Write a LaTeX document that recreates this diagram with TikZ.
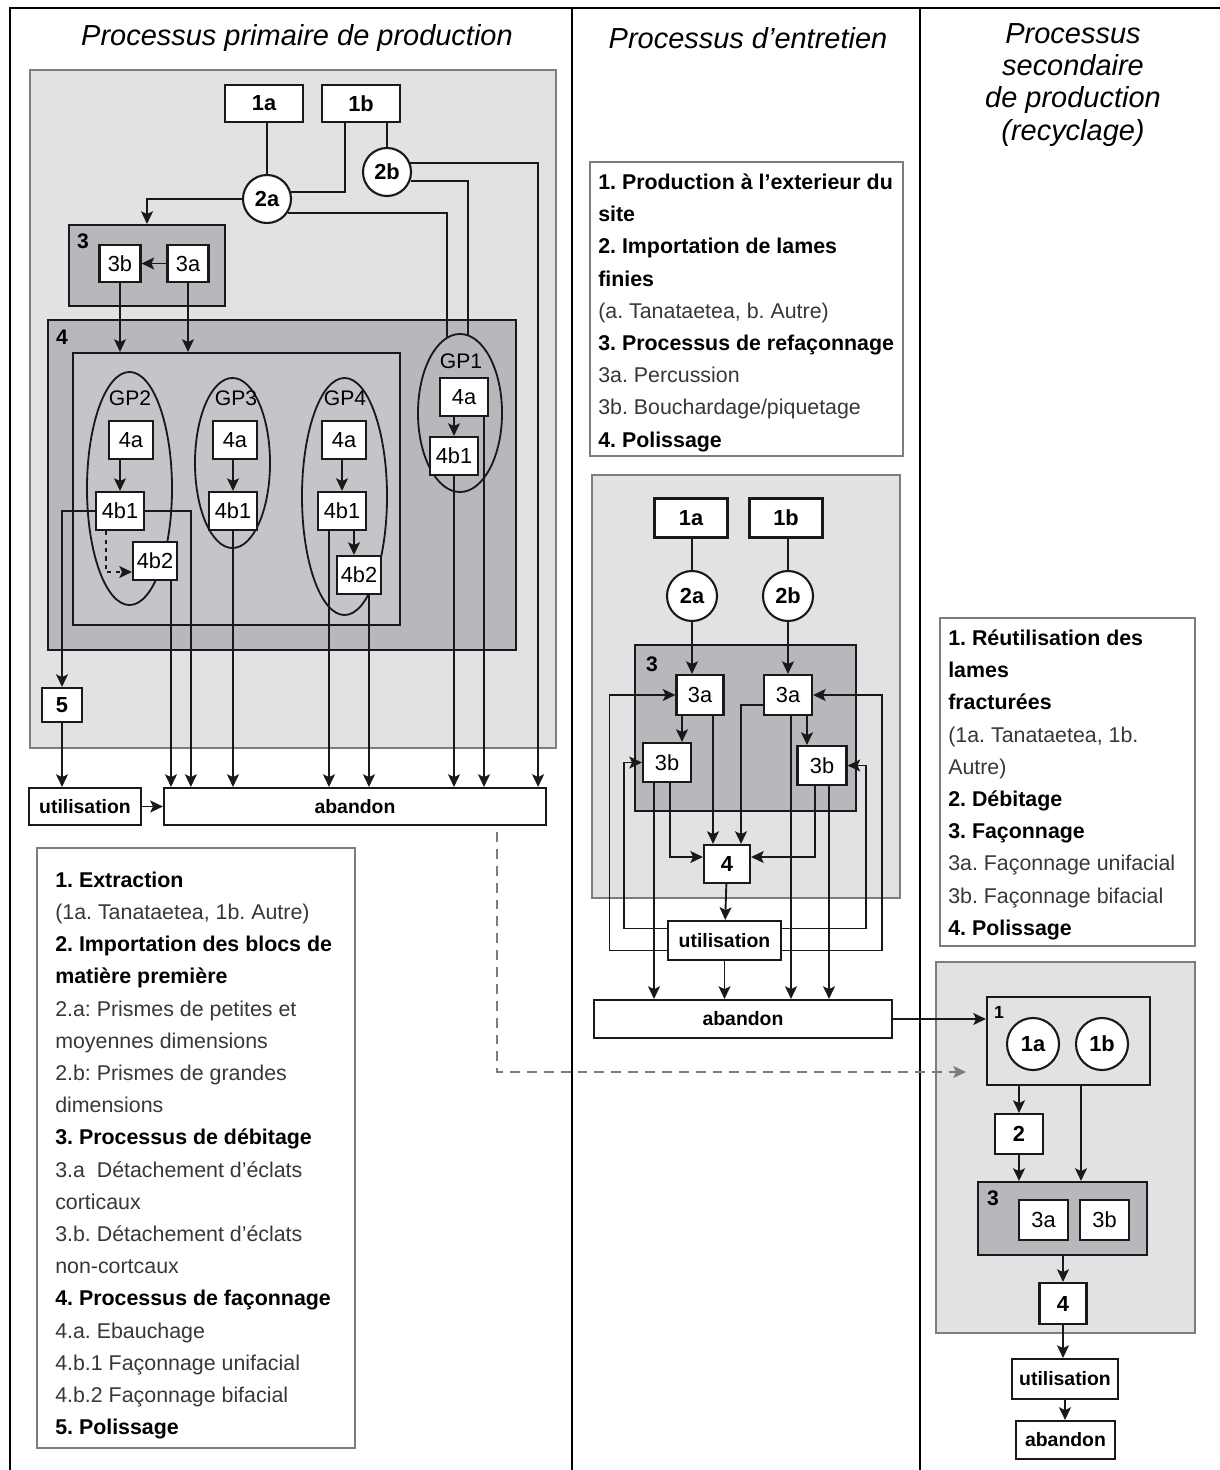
\documentclass[tikz,border=0pt]{standalone}
\usepackage{fontspec}
\setmainfont{Liberation Sans}
\usepackage{xcolor}
\usepackage{tikz}
\usetikzlibrary{positioning,arrows.meta,shapes.geometric,calc}
\frenchspacing

\definecolor{panelgray}{RGB}{226,226,229}
\definecolor{zonegray}{RGB}{184,184,188}
\definecolor{innergray}{RGB}{197,197,201}
\definecolor{edgegray}{RGB}{125,125,128}
\definecolor{legsub}{RGB}{55,55,55}
\definecolor{inkdark}{RGB}{25,25,25}
\newcommand{\souslig}[1]{\textcolor{legsub}{#1}}

\begin{document}
\begin{tikzpicture}[x=0.025cm, y=-0.025cm,
 boite/.style={draw=inkdark, line width=1.5pt, fill=white, inner sep=0pt, font=\fontsize{15.5}{18}\selectfont},
 bbox/.style={boite, font=\fontsize{15.5}{18}\selectfont\bfseries},
 wbox/.style={boite, font=\fontsize{13.8}{16}\selectfont\bfseries},
 rond/.style={circle, draw=inkdark, line width=1.5pt, fill=white, inner sep=0pt, minimum size=1.2cm, font=\fontsize{15.5}{18}\selectfont\bfseries},
 ovale/.style={ellipse, draw=inkdark, line width=1.3pt, inner sep=0pt},
 zone/.style={draw=inkdark, line width=1.5pt, inner sep=0pt},
 panneau/.style={draw=edgegray, line width=1pt, fill=panelgray, inner sep=0pt},
 legende/.style={draw=edgegray, line width=1pt, fill=white, inner sep=0pt},
 legtext/.style={anchor=north west, inner sep=0pt, align=left, font=\fontsize{15.2}{22.9}\selectfont},
 titre/.style={inner sep=0pt, font=\fontsize{20.6}{22.8}\selectfont\itshape},
 etiq/.style={anchor=north west, inner sep=0pt, font=\fontsize{15}{18}\selectfont\bfseries},
 gp/.style={inner sep=0pt, font=\fontsize{15}{18}\selectfont},
 lien/.style={draw=inkdark, line width=1.35pt},
 arr/.style={lien, -{Stealth[length=9pt,width=8.5pt,inset=2pt]}},
 tiret/.style={draw=edgegray, line width=1.4pt, dash pattern=on 7pt off 5pt, -{Stealth[length=9pt,width=8.5pt,inset=2pt]}},
 cadre/.style={draw=black, line width=1.5pt}]
\useasboundingbox (0,0) rectangle (1220,1470);

% cadre et titres
\draw[cadre] (10,1470) -- (10,8) -- (1220,8);
\draw[cadre] (572,8) -- (572,1470);
\draw[cadre] (920,8) -- (920,1470);
\node[titre] (hPrim) at (297,38) {Processus primaire de production};
\node[titre] (hEnt) at (748,38) {Processus d'entretien};
\node[titre, align=center] (hSec) at (1073,85) {Processus\\secondaire\\de production\\(recyclage)};

% processus primaire
\node[panneau, minimum width=13.15cm, minimum height=16.95cm] (pPanel) at (293,409) {};
\node[zone, fill=zonegray, minimum width=3.9cm, minimum height=2.025cm] (pThree) at (147,265.5) {};
\node[etiq] (pThreeLab) at ($(pThree.north west)+(9,10)$) {3};
\node[zone, fill=zonegray, minimum width=11.7cm, minimum height=8.25cm] (pFour) at (282,485) {};
\node[etiq] (pFourLab) at ($(pFour.north west)+(9,11)$) {4};
\node[zone, fill=innergray, minimum width=8.175cm, minimum height=6.8cm] (pInner) at (236.5,489) {};
\node[ovale, minimum width=2.125cm, minimum height=5.825cm] (pGPtwo) at (129.5,488.5) {};
\node[ovale, minimum width=1.875cm, minimum height=4.25cm] (pGPthree) at (232.5,463) {};
\node[ovale, minimum width=2.125cm, minimum height=5.925cm] (pGPfour) at (344.5,496.5) {};
\node[ovale, minimum width=2.1cm, minimum height=3.95cm] (pGPone) at (460,413) {};
\node[gp] (lGPtwo) at (130,398) {GP2};
\node[gp] (lGPthree) at (236,398) {GP3};
\node[gp] (lGPfour) at (345,398) {GP4};
\node[gp] (lGPone) at (461,361) {GP1};

\node[bbox, minimum width=1.95cm, minimum height=0.925cm] (p1a) at (264,103.5) {1a};
\node[bbox, minimum width=1.95cm, minimum height=0.925cm] (p1b) at (361,103.5) {1b};
\node[rond] (p2a) at (267,199) {2a};
\node[rond] (p2b) at (387,172) {2b};
\node[boite, minimum width=1.025cm, minimum height=0.925cm] (p3b) at (120,263.5) {3b};
\node[boite, minimum width=1.025cm, minimum height=0.925cm] (p3a) at (188,263.5) {3a};

\node[boite, minimum width=1.1cm, minimum height=0.95cm] (g2a) at (131,440) {4a};
\node[boite, minimum width=1.2cm, minimum height=0.95cm] (g2b1) at (120,511) {4b1};
\node[boite, minimum width=1.1cm, minimum height=0.95cm] (g2b2) at (155,561) {4b2};
\node[boite, minimum width=1.1cm, minimum height=0.95cm] (g3a) at (235,440) {4a};
\node[boite, minimum width=1.2cm, minimum height=0.95cm] (g3b1) at (233,511) {4b1};
\node[boite, minimum width=1.1cm, minimum height=0.95cm] (g4a) at (344,440) {4a};
\node[boite, minimum width=1.2cm, minimum height=0.95cm] (g4b1) at (342,511) {4b1};
\node[boite, minimum width=1.1cm, minimum height=0.95cm] (g4b2) at (359,575) {4b2};
\node[boite, minimum width=1.2cm, minimum height=0.95cm] (g1a) at (464,397) {4a};
\node[boite, minimum width=1.2cm, minimum height=0.95cm] (g1b1) at (454,456) {4b1};

\node[bbox, minimum width=1.0cm, minimum height=0.85cm] (p5) at (62,705) {5};
\node[wbox, minimum width=2.8cm, minimum height=0.925cm] (pUtil) at (85,806.5) {utilisation};
\node[wbox, minimum width=9.55cm, minimum height=0.925cm] (pAband) at (355,806.5) {abandon};

\draw[lien] (p2a.north |- p1a.south) -- (p2a.north);
\draw[lien] ($(p1b.south)+(-16,0)$) |- (p2a.17);
\draw[lien] (p2b.north |- p1b.south) -- (p2b.north);
\draw[arr] (p2a.west) -| (pThree.north);
\draw[lien] (p2a.-33) -| (pGPone.100);
\draw[lien] (p2b.-20) -| (pGPone.84);
\draw[arr] (p2b.22) -| ($(pAband.north east)+(-9,0)$);
\draw[arr] (p3a) -- (p3b);
\draw[arr] (p3b.south) -- (p3b.south |- pInner.north);
\draw[arr] (p3a.south) -- (p3a.south |- pInner.north);

\draw[arr] (g2b1.north |- g2a.south) -- (g2b1.north);
\draw[arr] (g3b1.north |- g3a.south) -- (g3b1.north);
\draw[arr] (g4b1.north |- g4a.south) -- (g4b1.north);
\draw[arr] (g1b1.north |- g1a.south) -- (g1b1.north);
\draw[arr, dashed] ($(g2b1.south)+(-14,0)$) |- ($(g2b2.west)+(0,11)$);
\coordinate (c4b) at ($(g4b1.south)+(12,0)$);
\draw[arr] (c4b) -- (c4b |- g4b2.north);
\draw[arr] (g2b1.west) -| (p5.north);
\draw[arr] (g2b1.east) -| ($(pAband.north west)+(28,0)$);

\coordinate (d2b2) at ($(g2b2.south)+(16,0)$);
\coordinate (d4b1) at ($(g4b1.south)+(-13,0)$);
\coordinate (d4b2) at ($(g4b2.south)+(10,0)$);
\coordinate (d1a) at ($(g1a.south)+(20,0)$);
\draw[arr] (d2b2) -- (d2b2 |- pAband.north);
\draw[arr] (g3b1.south) -- (g3b1.south |- pAband.north);
\draw[arr] (d4b1) -- (d4b1 |- pAband.north);
\draw[arr] (d4b2) -- (d4b2 |- pAband.north);
\draw[arr] (g1b1.south) -- (g1b1.south |- pAband.north);
\draw[arr] (d1a) -- (d1a |- pAband.north);
\draw[arr] (p5.south) -- (p5.south |- pUtil.north);
\draw[arr] (pUtil) -- (pAband);

% processus d'entretien
\node[panneau, minimum width=7.7cm, minimum height=10.575cm] (ePanel) at (746,686.5) {};
\node[zone, fill=zonegray, minimum width=5.525cm, minimum height=4.15cm] (eThree) at (745.5,728) {};
\node[etiq] (eThreeLab) at ($(eThree.north west)+(12,13)$) {3};
\node[bbox, minimum width=1.825cm, minimum height=0.975cm] (e1a) at (691,518) {1a};
\node[bbox, minimum width=1.825cm, minimum height=0.975cm] (e1b) at (786,518) {1b};
\node[rond, minimum size=1.25cm] (e2a) at (692,596) {2a};
\node[rond, minimum size=1.25cm] (e2b) at (788,596) {2b};
\node[boite, minimum width=1.175cm, minimum height=1.0cm] (e3aL) at (700,695) {3a};
\node[boite, minimum width=1.2cm, minimum height=1.0cm] (e3aR) at (788,695) {3a};
\node[boite, minimum width=1.2cm, minimum height=0.975cm] (e3bL) at (667,762.5) {3b};
\node[boite, minimum width=1.225cm, minimum height=0.975cm] (e3bR) at (822,765.5) {3b};
\node[bbox, minimum width=1.15cm, minimum height=0.95cm] (e4) at (727,864) {4};
\node[wbox, minimum width=2.825cm, minimum height=0.975cm] (eUtil) at (724.5,940.5) {utilisation};
\node[wbox, minimum width=7.45cm, minimum height=0.95cm] (eAband) at (743,1019) {abandon};

\draw[lien] (e2a.north |- e1a.south) -- (e2a.north);
\draw[lien] (e2b.north |- e1b.south) -- (e2b.north);
\draw[arr] (e2a.south) -- (e2a.south |- e3aL.north);
\draw[arr] (e2b.south) -- (e2b.south |- e3aR.north);
\coordinate (cAL) at ($(e3aL.south)+(-18,0)$);
\coordinate (cAR) at ($(e3aR.south)+(19,0)$);
\coordinate (cA4) at ($(e3aL.south)+(13,0)$);
\draw[arr] (cAL) -- (cAL |- e3bL.north);
\draw[arr] (cAR) -- (cAR |- e3bR.north);
\draw[arr] (cA4) -- (cA4 |- e4.north);
\draw[arr] ($(e3aR.west)+(0,10)$) -| ($(e4.north)+(14,0)$);
\draw[arr] ($(e3bL.south)+(3,0)$) |- ($(e4.west)+(0,-7)$);
\draw[arr] ($(e3bR.south)+(-7,0)$) |- ($(e4.east)+(0,-7)$);
\draw[arr] (e4) -- (eUtil);
\draw[arr] ($(eUtil.west)+(0,-12)$) -| ($(e3bL.west)+(-18,0)$) -- (e3bL.west);
\draw[arr] ($(eUtil.west)+(0,10)$) -| ($(e3aL.west)+(-66,0)$) -- (e3aL.west);
\draw[arr] ($(eUtil.east)+(0,-12)$) -| ($(e3bR.east)+(18,0)$) -- (e3bR.east);
\draw[arr] ($(eUtil.east)+(0,10)$) -| ($(e3aR.east)+(69,0)$) -- (e3aR.east);
\coordinate (dBL) at ($(e3bL.south)+(-13,0)$);
\coordinate (dAR) at ($(e3aR.south)+(3,0)$);
\coordinate (dBR) at ($(e3bR.south)+(7,0)$);
\draw[arr] (dBL) -- (dBL |- eAband.north);
\draw[arr] (eUtil.south) -- (eUtil.south |- eAband.north);
\draw[arr] (dAR) -- (dAR |- eAband.north);
\draw[arr] (dBR) -- (dBR |- eAband.north);

% processus secondaire
\node[panneau, minimum width=6.475cm, minimum height=9.275cm] (rPanel) at (1065.5,1147.5) {};
\node[zone, fill=panelgray, minimum width=4.075cm, minimum height=2.2cm] (rOne) at (1068.5,1041) {};
\node[etiq, font=\fontsize{12.5}{15}\selectfont\bfseries] (rOneLab) at ($(rOne.north west)+(8,10)$) {1};
\node[rond, minimum size=1.3cm] (r1a) at (1033,1044) {1a};
\node[rond, minimum size=1.3cm] (r1b) at (1102,1044) {1b};
\node[bbox, minimum width=1.2cm, minimum height=1.0cm] (r2) at (1019,1134) {2};
\node[zone, fill=zonegray, minimum width=4.225cm, minimum height=1.825cm] (rThree) at (1062.5,1218.5) {};
\node[etiq] (rThreeLab) at ($(rThree.north west)+(10,10)$) {3};
\node[boite, minimum width=1.225cm, minimum height=1.0cm] (r3a) at (1043.5,1220) {3a};
\node[boite, minimum width=1.225cm, minimum height=1.0cm] (r3b) at (1104.5,1220) {3b};
\node[bbox, minimum width=1.175cm, minimum height=1.025cm] (r4) at (1063,1303.5) {4};
\node[wbox, minimum width=2.65cm, minimum height=1.0cm] (rUtil) at (1065,1379) {utilisation};
\node[wbox, minimum width=2.475cm, minimum height=0.95cm] (rAband) at (1065.5,1440) {abandon};

\draw[arr] (r2.north |- rOne.south) -- (r2.north);
\coordinate (cR1) at ($(rOne.south)+(12.5,0)$);
\draw[arr] (cR1) -- (cR1 |- rThree.north);
\draw[arr] (r2.south) -- (r2.south |- rThree.north);
\draw[arr] (r4.north |- rThree.south) -- (r4.north);
\draw[arr] (r4.south) -- (r4.south |- rUtil.north);
\draw[arr] (rUtil.south) -- (rUtil.south |- rAband.north);
\draw[arr] (eAband.east) -- (eAband.east -| rOne.west);
\coordinate (dStart) at ($(pAband.south west)+(334,6)$);
\coordinate (dEnd) at ($(rOne.west)+(-20,31)$);
\draw[tiret] (dStart) |- (dEnd);

% legendes
\node[legende, minimum width=7.95cm, minimum height=15cm] (legA) at (196,1148) {};
\node[legtext] (legAtxt) at (55,871.5) {\textbf{1. Extraction}\\
\souslig{(1a. Tanataetea, 1b. Autre)}\\
\textbf{2. Importation des blocs de}\\
\textbf{matière première}\\
\souslig{2.a: Prismes de petites et}\\
\souslig{moyennes dimensions}\\
\souslig{2.b: Prismes de grandes}\\
\souslig{dimensions}\\
\textbf{3. Processus de débitage}\\
\souslig{3.a~ Détachement d'éclats}\\
\souslig{corticaux}\\
\souslig{3.b. Détachement d'éclats}\\
\souslig{non-cortcaux}\\
\textbf{4. Processus de façonnage}\\
\souslig{4.a. Ebauchage}\\
\souslig{4.b.1 Façonnage unifacial}\\
\souslig{4.b.2 Façonnage bifacial}\\
\textbf{5. Polissage}};
\node[legende, minimum width=7.825cm, minimum height=7.35cm] (legB) at (746.5,309) {};
\node[legtext] (legBtxt) at (598,173.5) {\textbf{1. Production à l'exterieur du}\\
\textbf{site}\\
\textbf{2. Importation de lames}\\
\textbf{finies}\\
\souslig{(a. Tanataetea, b. Autre)}\\
\textbf{3. Processus de refaçonnage}\\
\souslig{3a. Percussion}\\
\souslig{3b. Bouchardage/piquetage}\\
\textbf{4. Polissage}};
\node[legende, minimum width=6.375cm, minimum height=8.2cm] (legC) at (1067.5,782) {};
\node[legtext] (legCtxt) at (948,629.5) {\textbf{1. Réutilisation des}\\
\textbf{lames}\\
\textbf{fracturées}\\
\souslig{(1a. Tanataetea, 1b.}\\
\souslig{Autre)}\\
\textbf{2. Débitage}\\
\textbf{3. Façonnage}\\
\souslig{3a. Façonnage unifacial}\\
\souslig{3b. Façonnage bifacial}\\
\textbf{4. Polissage}};
\end{tikzpicture}
\end{document}
